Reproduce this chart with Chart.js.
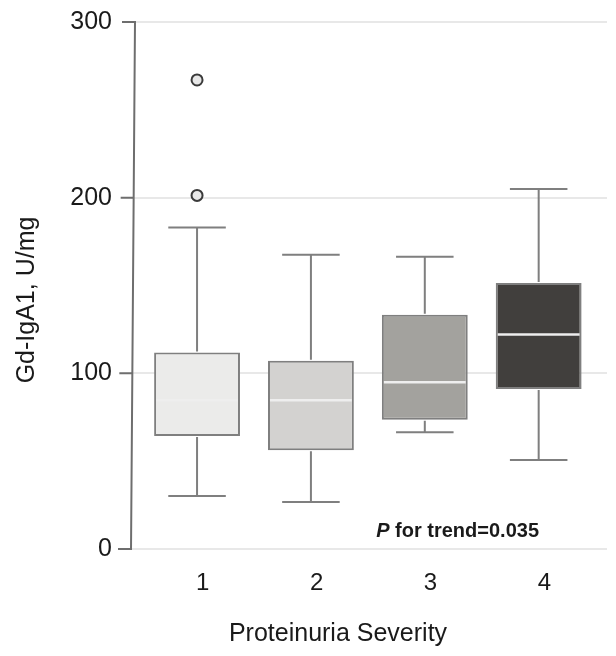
<!DOCTYPE html>
<html>
<head>
<meta charset="utf-8">
<script src="https://cdn.jsdelivr.net/npm/chart.js@4.4.1/dist/chart.umd.min.js"></script>
<style>
  html, body { margin: 0; padding: 0; background: #fff; }
</style>
</head>
<body>
<canvas id="chart" width="616" height="656"></canvas>
<script>
"use strict";

// Gd-IgA1 by proteinuria severity group
var severity = [1, 2, 3, 4];
var q1 = [64.3, 56.2, 73.6, 91.1];
var median = [84.7, 84.7, 94.9, 122.1];
var q3 = [111.9, 107.2, 133.3, 151.4];
var whiskerLow = [30.2, 26.8, 66.5, 50.7];
var whiskerHigh = [183, 167.5, 166.4, 204.9];
var outlierGroup = [1, 1];
var outlierValue = [267, 201.3];
var yTicks = [0, 100, 200, 300];

var boxColors = ["#ebebea", "#d3d2d0", "#a3a29e", "#413f3d"];
var lineGray = "#7f7f7f";
var fontFamily = "'Liberation Sans', Arial, Helvetica, sans-serif";

// whiskers, caps and medians on top of the floating bars
var boxPlot = {
    id: "boxPlot",
    afterDatasetsDraw: function(chart) {
        var ctx = chart.ctx;
        var x = chart.scales.x, y = chart.scales.y;
        var bars = chart.getDatasetMeta(0).data;
        ctx.save();
        severity.forEach(function(s, i) {
            var cx = x.getPixelForValue(s);
            var half = bars[i].width / 2;
            var cap = half * 0.67;
            var yHi = y.getPixelForValue(whiskerHigh[i]);
            var yLo = y.getPixelForValue(whiskerLow[i]);
            ctx.strokeStyle = lineGray;
            ctx.lineWidth = 2;
            ctx.beginPath();
            ctx.moveTo(cx, y.getPixelForValue(q3[i]) - 1);
            ctx.lineTo(cx, yHi);
            ctx.moveTo(cx, y.getPixelForValue(q1[i]) + 1);
            ctx.lineTo(cx, yLo);
            ctx.moveTo(cx - cap, yHi);
            ctx.lineTo(cx + cap, yHi);
            ctx.moveTo(cx - cap, yLo);
            ctx.lineTo(cx + cap, yLo);
            ctx.stroke();

            var ym = y.getPixelForValue(median[i]);
            ctx.strokeStyle = "#eeeeee";
            ctx.lineWidth = 2.5;
            ctx.beginPath();
            ctx.moveTo(cx - half + 2, ym);
            ctx.lineTo(cx + half - 2, ym);
            ctx.stroke();
        });
        ctx.restore();
    }
};

// slightly leaning y axis line with its tick marks, axis titles, trend note
var decorations = {
    id: "decorations",
    afterDraw: function(chart) {
        var ctx = chart.ctx;
        var area = chart.chartArea;
        var y = chart.scales.y;
        var lean = 4;
        var axisX = function(py) {
            return area.left + lean * (area.bottom - py) / (area.bottom - area.top);
        };
        ctx.save();
        ctx.strokeStyle = "#6e6e6e";
        ctx.lineWidth = 2;
        ctx.beginPath();
        ctx.moveTo(axisX(area.top), area.top - 1);
        ctx.lineTo(axisX(area.bottom), area.bottom + 1);
        yTicks.forEach(function(v) {
            var py = y.getPixelForValue(v);
            ctx.moveTo(axisX(py) - 13, py);
            ctx.lineTo(axisX(py), py);
        });
        ctx.stroke();

        ctx.fillStyle = "#1a1a1a";
        ctx.font = "25px " + fontFamily;
        ctx.textAlign = "center";
        ctx.textBaseline = "middle";
        ctx.fillText("Proteinuria Severity", 338, 634);

        ctx.translate(27, 300);
        ctx.rotate(-Math.PI / 2);
        ctx.fillText("Gd-IgA1, U/mg", 0, 0);
        ctx.setTransform(1, 0, 0, 1, 0, 0);

        // "P for trend=0.035", P in italics
        var right = area.right - 68;
        var base = y.getPixelForValue(7);
        ctx.textAlign = "left";
        ctx.textBaseline = "alphabetic";
        ctx.font = "bold 20px " + fontFamily;
        var rest = " for trend=0.035";
        var restW = ctx.measureText(rest).width;
        ctx.fillText(rest, right - restW, base);
        ctx.font = "italic bold 20px " + fontFamily;
        var pW = ctx.measureText("P").width;
        ctx.fillText("P", right - restW - pW, base);
        ctx.restore();
    }
};

var boxData = severity.map(function(s, i) {
    return { x: s, y: [q1[i], q3[i]] };
});
var outlierData = outlierGroup.map(function(g, i) {
    return { x: g, y: outlierValue[i] };
});

new Chart(document.getElementById("chart"), {
    type: "bar",
    data: {
        datasets: [{
            data: boxData,
            backgroundColor: boxColors,
            borderColor: lineGray,
            borderWidth: 2,
            borderSkipped: false,
            categoryPercentage: 1,
            barPercentage: 0.754
        }, {
            type: "scatter",
            data: outlierData,
            pointRadius: 5.5,
            pointBackgroundColor: "#e8e8e8",
            pointBorderColor: "#3a3a3a",
            pointBorderWidth: 2
        }]
    },
    options: {
        responsive: false,
        devicePixelRatio: 1,
        animation: false,
        layout: { padding: { top: 20, right: 9, left: 0, bottom: 0 } },
        plugins: {
            legend: { display: false },
            tooltip: { enabled: false }
        },
        scales: {
            x: {
                type: "linear",
                offset: false,
                min: 0.42,
                max: 4.6,
                grid: { display: false, drawTicks: false },
                border: { display: false },
                afterBuildTicks: function(scale) {
                    scale.ticks = severity.map(function(s) { return { value: s + 0.05 }; });
                },
                afterFit: function(scale) { scale.height = 107; },
                ticks: {
                    padding: 20,
                    color: "#1a1a1a",
                    font: { family: fontFamily, size: 24 },
                    callback: function(value) { return String(Math.round(value)); }
                }
            },
            y: {
                min: 0,
                max: 300,
                grid: {
                    color: "#e8e8e8",
                    lineWidth: 2,
                    tickColor: "rgba(0,0,0,0)",
                    tickLength: 12
                },
                border: { display: false },
                afterBuildTicks: function(scale) {
                    scale.ticks = yTicks.map(function(v) { return { value: v }; });
                },
                afterFit: function(scale) { scale.width = 131; },
                ticks: {
                    padding: 7,
                    color: "#1a1a1a",
                    font: { family: fontFamily, size: 25 }
                }
            }
        }
    },
    plugins: [boxPlot, decorations]
});
</script>
</body>
</html>
